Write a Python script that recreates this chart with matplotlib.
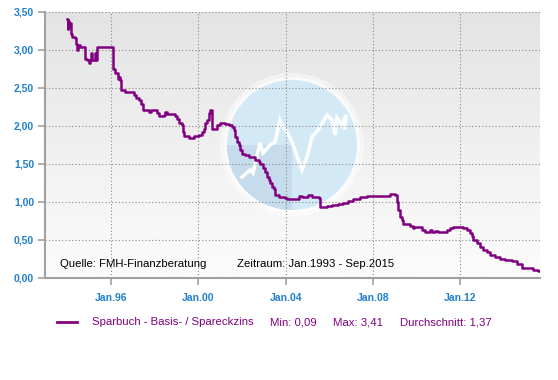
import numpy as np
import matplotlib
matplotlib.use("Agg")
import matplotlib.pyplot as plt
from matplotlib.patches import Circle, Rectangle

plt.rcParams['font.family'] = ['Liberation Sans', 'DejaVu Sans']

# Sparbuch rate (decimal year, percent)
dates = [1994.00, 1994.03, 1994.06, 1994.10, 1994.13, 1994.16, 1994.23, 1994.34,
         1994.42, 1994.46, 1994.50, 1994.58, 1994.80, 1994.89, 1995.01, 1995.05,
         1995.10, 1995.15, 1995.29, 1995.33, 1995.35, 1996.09, 1996.17, 1996.21,
         1996.32, 1996.37, 1996.44, 1996.47, 1996.67, 1997.02, 1997.05, 1997.13,
         1997.29, 1997.36, 1997.48, 1997.74, 1997.85, 1998.04, 1998.12, 1998.20,
         1998.42, 1998.50, 1998.58, 1998.88, 1998.96, 1999.03, 1999.11, 1999.26,
         1999.31, 1999.37, 1999.57, 1999.83, 2000.02, 2000.18, 2000.25, 2000.33,
         2000.41, 2000.48, 2000.56, 2000.63, 2000.65, 2000.79, 2000.86, 2001.01,
         2001.24, 2001.40, 2001.55, 2001.62, 2001.70, 2001.78, 2001.85, 2001.93,
         2002.01, 2002.16, 2002.31, 2002.51, 2002.62, 2002.77, 2002.84, 2002.97,
         2003.07, 2003.15, 2003.22, 2003.30, 2003.38, 2003.45, 2003.53, 2003.68,
         2003.99, 2004.06, 2004.29, 2004.60, 2004.75, 2005.05, 2005.21, 2005.51,
         2005.59, 2005.89, 2006.12, 2006.42, 2006.65, 2006.88, 2007.11, 2007.41,
         2007.72, 2008.48, 2008.79, 2009.01, 2009.09, 2009.17, 2009.24, 2009.32,
         2009.40, 2009.62, 2009.70, 2009.82, 2009.88, 2010.08, 2010.23, 2010.39,
         2010.61, 2010.69, 2010.84, 2011.00, 2011.30, 2011.38, 2011.53, 2011.68,
         2011.99, 2012.14, 2012.29, 2012.44, 2012.52, 2012.60, 2012.75, 2012.90,
         2013.05, 2013.21, 2013.36, 2013.59, 2013.82, 2014.04, 2014.35, 2014.58,
         2014.81, 2015.03, 2015.18, 2015.34, 2015.55, 2015.70]
rate = [3.41, 3.27, 3.38, 3.30, 3.35, 3.21, 3.17, 3.15,
        3.08, 3.00, 3.06, 3.04, 2.88, 2.86, 2.82, 2.86,
        2.95, 2.86, 2.95, 2.86, 3.04, 2.75, 2.72, 2.69,
        2.62, 2.64, 2.60, 2.47, 2.445, 2.44, 2.40, 2.36,
        2.34, 2.29, 2.20, 2.18, 2.21, 2.20, 2.16, 2.125,
        2.14, 2.18, 2.15, 2.15, 2.13, 2.09, 2.04, 2.01,
        1.92, 1.86, 1.84, 1.86, 1.875, 1.92, 1.96, 2.03,
        2.07, 2.16, 2.20, 2.18, 1.95, 1.96, 2.01, 2.03,
        2.02, 2.01, 1.98, 1.94, 1.85, 1.79, 1.74, 1.68,
        1.63, 1.61, 1.59, 1.59, 1.55, 1.52, 1.50, 1.44,
        1.39, 1.32, 1.28, 1.25, 1.195, 1.17, 1.085, 1.06,
        1.05, 1.04, 1.03, 1.07, 1.055, 1.085, 1.055, 1.05,
        0.93, 0.94, 0.95, 0.97, 0.976, 1.007, 1.03, 1.06,
        1.07, 1.07, 1.10, 1.09, 1.00, 0.89, 0.80, 0.76,
        0.71, 0.71, 0.68, 0.65, 0.67, 0.67, 0.62, 0.60,
        0.62, 0.60, 0.61, 0.60, 0.60, 0.625, 0.65, 0.67,
        0.67, 0.65, 0.62, 0.58, 0.54, 0.49, 0.45, 0.405,
        0.36, 0.33, 0.30, 0.27, 0.25, 0.23, 0.22, 0.18,
        0.13, 0.12, 0.13, 0.10, 0.09, 0.09]

xticks = [1996, 2000, 2004, 2008, 2012]
xlabels = ['Jan.96', 'Jan.00', 'Jan.04', 'Jan.08', 'Jan.12']
yticks = [0.0, 0.5, 1.0, 1.5, 2.0, 2.5, 3.0, 3.5]

series_name = 'Sparbuch - Basis- / Spareckzins'
stats = ['Min: 0,09', 'Max: 3,41', 'Durchschnitt: 1,37']

purple = '#800080'
blue = '#1f80d0'
W, H = 558, 380

fig = plt.figure(figsize=(W / 100, H / 100), dpi=100)
ax_rect = [45.3 / W, 1 - 277.5 / H, (540 - 45.3) / W, (277.5 - 11.7) / H]

# gradient background
bg = fig.add_axes(ax_rect, zorder=0)
grad = np.linspace(0.89, 0.985, 256).reshape(-1, 1)
bg.imshow(grad, cmap='gray', vmin=0, vmax=1, aspect='auto', extent=[0, 1, 0, 1])
bg.axis('off')

# watermark logo
cx, cy, r = 292, 145, 65
logo = fig.add_axes([(cx - 80) / W, 1 - (cy + 80) / H, 160 / W, 160 / H], zorder=1)
logo.set_xlim(-80, 80)
logo.set_ylim(-80, 80)
logo.axis('off')
logo.add_patch(Circle((0, 0), r + 7, color='white', alpha=0.45, lw=0))
logo.add_patch(Circle((0, 0), r + 3, color='white', alpha=0.6, lw=0))
disc = Circle((0, 0), r, color='#d3eaf6', lw=0)
logo.add_patch(disc)
shade = Rectangle((-72, -72), 72, 72, color='#c6dbeb', lw=0)
logo.add_patch(shade)
shade.set_clip_path(Circle((0, 0), r, transform=logo.transData))
wx = [-50, -42, -39, -32, -29, -22, -17, -12, -9, -5, 0, 10, 15, 20, 26, 35, 40, 43, 45, 50, 54, 53]
wy = [-32, -25, -28, 2, -8, 0, 3, 25, 18, 13, 3, -25, -12, 8, 15, 30, 25, 10, 27, 20, 30, 17]
logo.plot(wx, wy, color='white', lw=2.6, alpha=0.95, solid_joinstyle='miter')

# main chart
ax = fig.add_axes(ax_rect, zorder=2)
ax.patch.set_alpha(0)
ax.plot(dates, rate, color=purple, lw=1.8, drawstyle='steps-post', zorder=3)
ax.set_xlim(1993.0, 2015.65)
ax.set_ylim(0, 3.5)
ax.set_xticks(xticks)
ax.set_xticklabels(xlabels)
ax.set_yticks(yticks)
ax.set_yticklabels([f'{v:.2f}'.replace('.', ',') for v in yticks])
ax.grid(True, color='#8a8a8a', lw=0.8, linestyle=(0, (1, 2)))
for s in ['top', 'right']:
    ax.spines[s].set_visible(False)
for s in ['left', 'bottom']:
    ax.spines[s].set_color('#a0a0a0')
    ax.spines[s].set_linewidth(1.5)
ax.tick_params(axis='both', colors='#a0a0a0', length=5, width=1.2, labelcolor=blue,
               labelsize=7.5)
ax.tick_params(axis='x', pad=6)
ax.tick_params(axis='y', pad=3)
for lab in ax.get_xticklabels() + ax.get_yticklabels():
    lab.set_fontweight('bold')

fig.text(60 / W, 1 - 264.3 / H, 'Quelle: FMH-Finanzberatung', fontsize=8.2,
         va='center', zorder=5)
fig.text(237 / W, 1 - 264.3 / H, 'Zeitraum: Jan.1993 - Sep.2015', fontsize=8.2,
         va='center', zorder=5)

# legend row
fig.add_artist(plt.Line2D([57 / W, 77 / W], [1 - 322.3 / H] * 2, color=purple, lw=2))
fig.text(92 / W, 1 - 322.3 / H, series_name, color=purple, fontsize=8.2,
         va='center')
for xpos, s in zip([270, 333, 400], stats):
    fig.text(xpos / W, 1 - 322.3 / H, s, color=purple, fontsize=8.2, va='center')

fig.savefig('out.png', dpi=100)
